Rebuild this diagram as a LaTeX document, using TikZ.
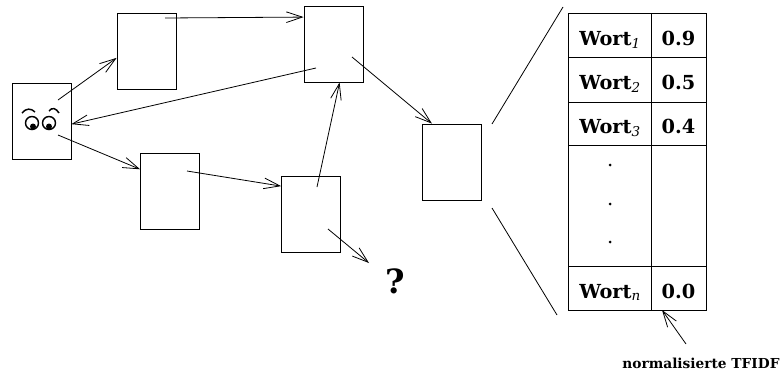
\documentclass[tikz,border=0pt]{standalone}
\usepackage{fontspec}
\setmainfont{DejaVu Serif}
\usetikzlibrary{arrows.meta}

\begin{document}
\begin{tikzpicture}[x = 0.75pt, y = -0.75pt, line width = 0.6pt,
						>={Straight Barb[length=12pt,width=8pt]},
						page/.style={draw, minimum width=44.25pt, minimum height=57pt, inner sep=0pt},
						cell/.style={font=\bfseries\fontsize{14.5}{16}\selectfont, inner sep=0pt},
						]

		\useasboundingbox (0, 0) rectangle (781, 372);

		% Pages
		\node[page] (eyePage) at (41.5, 121) {};
		\node[page] (pageA) at (146.5, 51) {};
		\node[page] (pageB) at (333.5, 44) {};
		\node[page] (pageC) at (451.5, 162) {};
		\node[page] (pageD) at (170, 191) {};
		\node[page] (pageE) at (311, 214) {};

		% Link starts inside the pages
		\coordinate (eyeUp) at (58, 100);
		\coordinate (eyeDown) at (58, 135);
		\coordinate (aOut) at (165, 18);
		\coordinate (bBack) at (316, 68);
		\coordinate (bOut) at (352, 57);
		\coordinate (dOut) at (187, 171);
		\coordinate (eUp) at (317, 187);
		\coordinate (eOut) at (328, 229);

		% Links
		\node[font=\bfseries\fontsize{25}{27}\selectfont, inner sep=0pt] (unknown) at (395, 281) {?};
		\coordinate (unknownTip) at (369, 263);
		\draw[->] (eyeUp) -- (pageA.193);
		\draw[->] (aOut) -- (pageB.138.6);
		\draw[->] (bBack) -- (eyePage.354);
		\draw[->] (eyeDown) -- (pageD.144);
		\draw[->] (dOut) -- (pageE.137);
		\draw[->] (eUp) -- (pageB.279.7);
		\draw[->] (bOut) -- (pageC.117);
		\draw[->] (eOut) -- (unknownTip);

		% Eyes
		\draw[line width = 1.1pt] (32, 123) circle[radius = 6.5];
		\draw[line width = 1.1pt] (49, 123) circle[radius = 6.5];
		\fill (33, 126.5) circle[radius = 3];
		\fill (49, 126.5) circle[radius = 3];
		\draw[line width = 1.1pt] (22, 113) .. controls (26, 108) and (31, 108) .. (35, 112);
		\draw[line width = 1.1pt] (49, 111) .. controls (52, 107) and (56, 108) .. (59, 113);

		% Zoom lines
		\coordinate (zoomA) at (492, 124);
		\coordinate (zoomB) at (563, 7);
		\coordinate (zoomC) at (492, 208);
		\coordinate (zoomD) at (557, 315);
		\draw (zoomA) -- (zoomB);
		\draw (zoomC) -- (zoomD);

		% Table
		\draw (568.5, 13) rectangle (706, 310);
		\draw (651.5, 13) -- (651.5, 310);
		\foreach \y in {57, 102, 145, 266}
			\draw (568.5, \y) -- (706, \y);

		\node[cell, anchor=base west] (wordA) at (579, 45) {Wort\textsubscript{\itshape\mdseries 1}};
		\node[cell, anchor=base west] (wordB) at (579, 89) {Wort\textsubscript{\itshape\mdseries 2}};
		\node[cell, anchor=base west] (wordC) at (579, 133) {Wort\textsubscript{\itshape\mdseries 3}};
		\node[cell, anchor=base west] (wordN) at (579, 298) {Wort\textsubscript{\itshape\mdseries n}};
		\node[cell, anchor=base] (valA) at (678.5, 45) {0.9};
		\node[cell, anchor=base] (valB) at (678.5, 89) {0.5};
		\node[cell, anchor=base] (valC) at (678.5, 133) {0.4};
		\node[cell, anchor=base] (valN) at (678.5, 298) {0.0};

		\foreach \y in {165, 204, 242}
			\fill (610, \y) circle[radius = 1.5];

		% Label below
		\node[font=\bfseries\fontsize{10.3}{12}\selectfont, inner sep=0pt] (tfidf) at (701, 363) {normalisierte TFIDF};
		\coordinate (tfidfOut) at (686, 344);
		\coordinate (tfidfTip) at (662, 310);
		\draw[->] (tfidfOut) -- (tfidfTip);

	\end{tikzpicture}
\end{document}
